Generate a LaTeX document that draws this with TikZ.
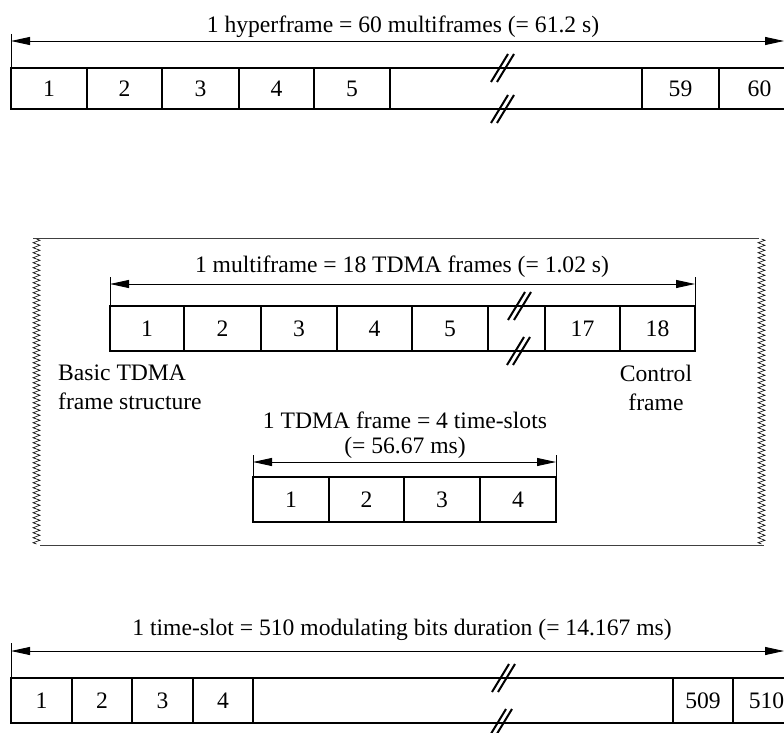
\documentclass[tikz,border=0pt]{standalone}
\usepackage{fontspec}
\setmainfont{Liberation Serif}
\usetikzlibrary{arrows.meta,decorations.pathmorphing}
\newcommand\cellbox[6]{%
  \node[cellnode, minimum width={(#3-#2)*1pt}, minimum height={(#5-#4)*1pt}, anchor=north west] (#1) at (#2,#4) {#6};}
\newcommand\brkmark[2]{%
  \draw[brk] (#1-11,#2+14) -- (#1+6,#2-14);
  \draw[brk] (#1-5,#2+14) -- (#1+12,#2-14);}
\begin{document}
\begin{tikzpicture}[x=1pt,y=-1pt,
  every node/.style={font=\fontsize{23.6}{29}\selectfont},
  cellnode/.style={draw=black, line width=1.3pt, inner sep=0pt, outer sep=0pt},
  brk/.style={line width=2pt, black},
  dim/.style={line width=0.9pt, {Triangle[length=19pt,width=8pt]}-{Triangle[length=19pt,width=8pt]}},
  tick/.style={line width=0.9pt},
  frameline/.style={line width=1pt, black!75},
  zz/.style={line width=0.6pt, decorate, decoration={zigzag, segment length=5pt, amplitude=3.5pt}},
  lbl/.style={inner sep=0pt}]
\clip (0,0) rectangle (784,733);
\useasboundingbox (0,0) rectangle (784,733);
\fill[white] (0,0) rectangle (784,733);

% ---------- hyperframe ----------
\cellbox{h1}{11}{87}{68}{109}{1}
\cellbox{h2}{87}{162}{68}{109}{2}
\cellbox{h3}{162}{239}{68}{109}{3}
\cellbox{h4}{239}{314}{68}{109}{4}
\cellbox{h5}{314}{390}{68}{109}{5}
\cellbox{hg}{390}{642}{68}{109}{}
\cellbox{h59}{642}{719}{68}{109}{59}
\cellbox{h60}{719}{800}{68}{109}{60}
\coordinate (hl) at (11,41);
\coordinate (hr) at (784,41);
\coordinate (hlt) at (11,34);
\draw[tick] (hlt) -- (h1.north west);
\draw[dim] (hl) -- (hr);
\node[lbl] (hlab) at (403,27) {1 hyperframe = 60 multiframes (= 61.2 s)};
\brkmark{502}{68}
\brkmark{502}{109}

% ---------- middle frame ----------
\coordinate (ftl) at (33,238);
\coordinate (ftr) at (759,238);
\coordinate (fbl) at (40,545);
\coordinate (fbr) at (764,545);
\draw[frameline] (ftl) -- (ftr);
\draw[frameline] (fbl) -- (fbr);
\draw[zz] (36.5,239) -- (36.5,544);
\draw[zz] (761.5,239) -- (761.5,544);

% multiframe bar
\cellbox{m1}{110}{184}{306}{351}{1}
\cellbox{m2}{184}{261}{306}{351}{2}
\cellbox{m3}{261}{337}{306}{351}{3}
\cellbox{m4}{337}{412}{306}{351}{4}
\cellbox{m5}{412}{488}{306}{351}{5}
\cellbox{mg}{488}{545}{306}{351}{}
\cellbox{m17}{545}{620}{306}{351}{17}
\cellbox{m18}{620}{695}{306}{351}{18}
\coordinate (ml) at (110,284);
\coordinate (mr) at (695,284);
\coordinate (mlt) at (110,277);
\coordinate (mrt) at (695,277);
\draw[tick] (mlt) -- (m1.north west);
\draw[tick] (mrt) -- (m18.north east);
\draw[dim] (ml) -- (mr);
\node[lbl] (mlab) at (402,267) {1 multiframe = 18 TDMA frames (= 1.02 s)};
\brkmark{519}{306}
\brkmark{518}{351}
\node[lbl, anchor=west, align=left] (basic) at (58,387.5) {Basic TDMA\\frame structure};
\node[lbl, align=center] (ctrl) at (656,387.5) {Control\\frame};

% TDMA frame bar
\cellbox{t1}{253}{329}{477}{522}{1}
\cellbox{t2}{329}{404}{477}{522}{2}
\cellbox{t3}{404}{480}{477}{522}{3}
\cellbox{t4}{480}{556}{477}{522}{4}
\coordinate (tl) at (253,462);
\coordinate (tr) at (556,462);
\coordinate (tlt) at (253,455);
\coordinate (trt) at (556,455);
\draw[tick] (tlt) -- (t1.north west);
\draw[tick] (trt) -- (t4.north east);
\draw[dim] (tl) -- (tr);
\node[lbl, align=center, font=\fontsize{23.6}{25}\selectfont] (tlab) at (405,435.5) {1 TDMA frame = 4 time-slots\\(= 56.67 ms)};

% ---------- time-slot ----------
\cellbox{b1}{11}{72}{678}{723}{1}
\cellbox{b2}{72}{132}{678}{723}{2}
\cellbox{b3}{132}{193}{678}{723}{3}
\cellbox{b4}{193}{253}{678}{723}{4}
\cellbox{bg}{253}{673}{678}{723}{}
\cellbox{b509}{673}{733}{678}{723}{509}
\cellbox{b510}{733}{800}{678}{723}{510}
\coordinate (bl) at (11,651);
\coordinate (br) at (784,651);
\coordinate (blt) at (11,643);
\draw[tick] (blt) -- (b1.north west);
\draw[dim] (bl) -- (br);
\node[lbl] (blab) at (402,630) {1 time-slot = 510 modulating bits duration (= 14.167 ms)};
\brkmark{503}{678}
\brkmark{500}{723}
\end{tikzpicture}
\end{document}
